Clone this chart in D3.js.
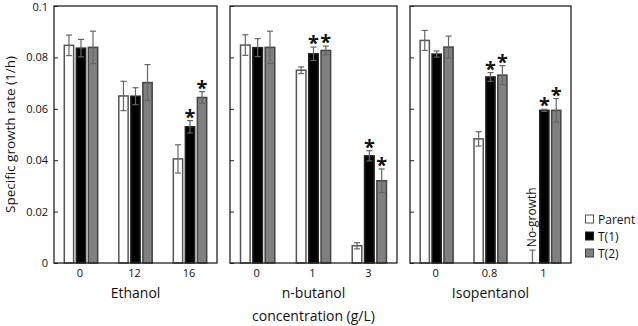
<!DOCTYPE html>
<html><head><meta charset="utf-8">
<script src="https://cdn.jsdelivr.net/npm/d3@7"></script>
<style>body{margin:0;background:#fff}text{font-family:"Open Sans",sans-serif}</style>
</head><body><svg id="c" width="638" height="326"></svg>
<script>
const panelTitles = [["Ethanol"], ["n-butanol", "concentration (g/L)"], ["Isopentanol"]];
const categories = [["0","12","16"], ["0","1","3"], ["0","0.8","1"]];
const seriesNames = ["Parent","T(1)","T(2)"];
const parentVals = [[0.0847,0.0650,0.0405],[0.0848,0.0750,0.0067],[0.0866,0.0483,0]];
const parentErr  = [[0.0040,0.0057,0.0055],[0.0040,0.0013,0.0012],[0.0039,0.0028,0.0050]];
const t1Vals = [[0.0836,0.0649,0.0530],[0.0838,0.0814,0.0417],[0.0813,0.0724,0.0594]];
const t1Err  = [[0.0034,0.0033,0.0024],[0.0035,0.0026,0.0020],[0.0012,0.0017,0.0004]];
const t2Vals = [[0.0839,0.0702,0.0644],[0.0839,0.0827,0.0320],[0.0840,0.0731,0.0594]];
const t2Err  = [[0.0063,0.0070,0.0023],[0.0063,0.0017,0.0046],[0.0043,0.0037,0.0046]];
const t1Sig = [[0,0,1],[0,1,1],[0,1,1]];
const t2Sig = [[0,0,1],[0,1,1],[0,1,1]];
const yTicks = [0,0.02,0.04,0.06,0.08,0.1];
const yTickLabels = ["0","0.02","0.04","0.06","0.08","0.1"];
const noGrowth = {panel:2, cat:2, label:"No-growth"};

const fills = ["#ffffff","#000000","#808080"];
const strokes = ["#555","#222","#444"];
const svg = d3.select("#c");
const panelLeft = [54, 230, 410], panelW = [163, 167, 161];
const plotTop = 6, plotBottom = 263;
const y = d3.scaleLinear().domain([0,0.1]).range([plotBottom, plotTop]);

svg.append("text").attr("transform",`translate(15,${(plotTop+plotBottom)/2}) rotate(-90)`)
  .attr("text-anchor","middle").attr("font-size",13.5).attr("fill","#111").text("Specific growth rate (1/h)");

const yAxisLab = svg.append("g");
yTicks.forEach((t,i)=>{
  yAxisLab.append("text").attr("x",48).attr("y",Math.max(y(t)+4, 11)).attr("text-anchor","end")
    .attr("font-size",11).attr("fill","#111").text(yTickLabels[i]);
});

const vals = [parentVals,t1Vals,t2Vals], errs=[parentErr,t1Err,t2Err], sigs=[null,t1Sig,t2Sig];

panelTitles.forEach((title,p)=>{
  const L = panelLeft[p], W = panelW[p];
  const g = svg.append("g").attr("transform",`translate(${L},0)`);
  const x = d3.scaleBand().domain(categories[p]).range([0,W]).paddingInner(0.36).paddingOuter(0.175);
  const xs = d3.scaleBand().domain(seriesNames).range([0,x.bandwidth()]).paddingInner(0.1);
  g.append("g").call(d3.axisRight(y).tickValues(yTicks).tickSize(4).tickFormat(""))
    .call(a=>{a.select(".domain").remove(); a.selectAll("line").attr("stroke","#222");});
  categories[p].forEach((c,ci)=>{
    seriesNames.forEach((s,si)=>{
      const v = vals[si][p][ci], e = errs[si][p][ci];
      const bx = x(c)+xs(s), bw = xs.bandwidth(), cx = bx+bw/2;
      if (v>0) g.append("rect").attr("x",bx+0.75).attr("y",y(v)).attr("width",bw-1.5).attr("height",plotBottom-y(v))
        .attr("fill",fills[si]).attr("stroke",strokes[si]).attr("stroke-width",1.5);
      const eTop = y(v+e), eBot = y(Math.max(0,v-e));
      g.append("line").attr("x1",cx).attr("x2",cx).attr("y1",eTop).attr("y2",eBot).attr("stroke","#666").attr("stroke-width",1.2);
      [eTop, eBot].forEach(yy=>g.append("line").attr("x1",cx-3).attr("x2",cx+3).attr("y1",yy).attr("y2",yy).attr("stroke","#666").attr("stroke-width",1.2));
      if (sigs[si] && sigs[si][p][ci]) g.append("text").attr("x",cx).attr("y",eTop+3).attr("text-anchor","middle")
        .attr("font-size",20).attr("font-weight","bold").attr("fill","#111").text("*");
      if (p===noGrowth.panel && ci===noGrowth.cat && si===0)
        g.append("text").attr("transform",`translate(${cx+4},${y(v+e)-3}) rotate(-90)`).attr("font-size",12).attr("fill","#111").text(noGrowth.label);
    });
    g.append("text").attr("x",x(c)+x.bandwidth()/2-1).attr("y",277).attr("text-anchor","middle")
      .attr("font-size",11).attr("fill","#111").text(c);
  });
  g.append("rect").attr("x",0).attr("y",plotTop).attr("width",W).attr("height",plotBottom-plotTop)
    .attr("fill","none").attr("stroke","#222").attr("stroke-width",1.3);
  title.forEach((t,ti)=>g.append("text").attr("x",W/2).attr("y",298+ti*23).attr("text-anchor","middle")
    .attr("font-size",14).attr("fill","#111").text(t));
});

seriesNames.forEach((s,i)=>{
  const yy = 215+i*17;
  svg.append("rect").attr("x",585.5).attr("y",yy).attr("width",8).attr("height",8)
    .attr("fill",fills[i]).attr("stroke",strokes[i]).attr("stroke-width",1);
  svg.append("text").attr("x",598).attr("y",yy+8.5).attr("font-size",12).attr("fill","#111").text(s);
});
</script></body></html>
